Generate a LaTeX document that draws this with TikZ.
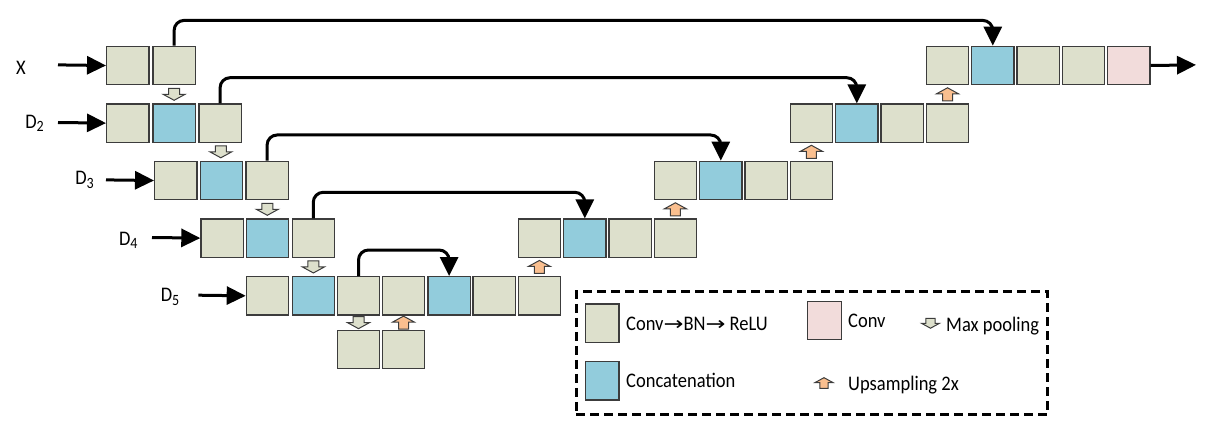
\documentclass[tikz,border=0pt]{standalone}
\usepackage{fontspec}
\setmainfont{Carlito}
\newfontfamily\arrowfont{DejaVu Sans}
\usetikzlibrary{arrows.meta,calc}
\definecolor{boxg}{RGB}{221,224,204}
\definecolor{boxb}{RGB}{146,204,220}
\definecolor{boxp}{RGB}{242,220,219}
\definecolor{upor}{RGB}{250,191,143}
\definecolor{edge}{RGB}{60,60,60}
\newcommand\sub[1]{\raisebox{-0.35ex}{\fontsize{14}{14}\selectfont #1}}
\newcommand\rarr{\scalebox{1.4}[1.0]{\arrowfont\fontsize{17}{17}\selectfont →}}
\begin{document}
\begin{tikzpicture}[x=1pt,y=-1pt,
  blk/.style={draw=edge,line width=1.3pt,minimum width=42.3pt,minimum height=38.3pt,inner sep=0pt,anchor=north west},
  gb/.style={blk,fill=boxg},
  bb/.style={blk,fill=boxb},
  pb/.style={blk,fill=boxp},
  lgb/.style={draw=edge,line width=1.3pt,minimum width=33.3pt,minimum height=38.3pt,inner sep=0pt,anchor=north west},
  txt/.style={font=\fontsize{18.5}{20}\selectfont,inner sep=0pt,text=black,yscale=1.12},
  skip/.style={line width=3pt,rounded corners=10pt,-{Triangle[length=19pt,width=18pt]}},
  inarr/.style={line width=3pt,-{Triangle[length=19pt,width=18pt]}},
  pics/pooldn/.style={code={\draw[draw=edge,line width=1pt,fill=boxg] (-5.5,-6) -- (5.5,-6) -- (5.5,0) -- (11,0) -- (0,6) -- (-11,0) -- (-5.5,0) -- cycle;}},
  pics/upsmp/.style={code={\draw[draw=edge,line width=1pt,fill=upor] (-5,6.5) -- (5,6.5) -- (5,-0.5) -- (11,-0.5) -- (0,-6.5) -- (-11,-0.5) -- (-5,-0.5) -- cycle;}}
]
\useasboundingbox (0,0) rectangle (1211,433);
% encoder rows
\node[gb] (e1a) at (106,45.7) {};
\node[gb] (e1b) at (152.3,45.7) {};
\node[gb] (e2a) at (106,103.3) {};
\node[bb] (e2b) at (152.3,103.3) {};
\node[gb] (e2c) at (198.3,103.3) {};
\node[gb] (e3a) at (154,160.7) {};
\node[bb] (e3b) at (199.7,160.7) {};
\node[gb] (e3c) at (245.3,160.7) {};
\node[gb] (e4a) at (200.3,218.3) {};
\node[bb] (e4b) at (245.7,218.3) {};
\node[gb] (e4c) at (291.5,218.3) {};
% bottom row D5
\node[gb] (f1) at (245.7,276) {};
\node[bb] (f2) at (291.7,276) {};
\node[gb] (f3) at (336.7,276) {};
\node[gb] (f4) at (381.7,276) {};
\node[bb] (f5) at (427.3,276) {};
\node[gb] (f6) at (472.3,276) {};
\node[gb] (f7) at (517.7,276) {};
\node[gb] (g1) at (336.7,329.7) {};
\node[gb] (g2) at (381.7,329.7) {};
% decoder rows
\node[gb] (d4a) at (517.5,218.3) {};
\node[bb] (d4b) at (563,218.3) {};
\node[gb] (d4c) at (608.3,218.3) {};
\node[gb] (d4d) at (653.7,218.3) {};
\node[gb] (d3a) at (653.5,160.7) {};
\node[bb] (d3b) at (699,160.7) {};
\node[gb] (d3c) at (744.3,160.7) {};
\node[gb] (d3d) at (789.7,160.7) {};
\node[gb] (d2a) at (789.5,103.3) {};
\node[bb] (d2b) at (835,103.3) {};
\node[gb] (d2c) at (880.3,103.3) {};
\node[gb] (d2d) at (925.7,103.3) {};
\node[gb] (d1a) at (925.7,45.7) {};
\node[bb] (d1b) at (971,45.7) {};
\node[gb] (d1c) at (1016.3,45.7) {};
\node[gb] (d1d) at (1061.7,45.7) {};
\node[pb] (d1e) at (1107,45.7) {};
% skip connections
\draw[skip] (e1b.north) -- ++(0,-25.3) -| (d1b.north);
\draw[skip] (e2c.north) -- ++(0,-25.6) -| (d2b.north);
\draw[skip] (e3c.north) -- ++(0,-25.7) -| (d3b.north);
\draw[skip] (e4c.north) -- ++(0,-26) -| (d4b.north);
\draw[skip] (f3.north) -- ++(0,-26) -| (f5.north);
% inputs
\node[txt,anchor=base] (lx) at (21,75) {X};
\node[txt,anchor=base] (l2) at (34.5,128.3) {D\sub{2}};
\node[txt,anchor=base] (l3) at (84.5,185) {D\sub{3}};
\node[txt,anchor=base] (l4) at (128.3,245) {D\sub{4}};
\node[txt,anchor=base] (l5) at (170,301.7) {D\sub{5}};
\coordinate (ix) at (58,64.9);
\coordinate (i2) at (58,122.5);
\coordinate (i3) at (106,179.9);
\coordinate (i4) at (152,237.5);
\coordinate (i5) at (198.3,295.2);
\draw[inarr] (ix) -- (e1a.west);
\draw[inarr] (i2) -- (e2a.west);
\draw[inarr] (i3) -- (e3a.west);
\draw[inarr] (i4) -- (e4a.west);
\draw[inarr] (i5) -- (f1.west);
\coordinate (out) at (1196,64.9);
\draw[inarr] (d1e.east) -- (out);
% pooling arrows
\pic at ($(e1b.south)!0.5!(e2b.north)$) {pooldn};
\pic at ($(e2c.south)!0.5!(e3b.north)$) {pooldn};
\pic at ($(e3c.south)!0.5!(e4b.north)$) {pooldn};
\pic at ($(e4c.south)!0.5!(f2.north)$) {pooldn};
\pic at ($(f3.south)!0.5!(g1.north)$) {pooldn};
% upsampling arrows
\pic at ($(g2.north)!0.5!(f4.south)$) {upsmp};
\pic at ($(f7.north)!0.5!(d4a.south)$) {upsmp};
\pic at ($(d4d.north)!0.5!(d3a.south)$) {upsmp};
\pic at ($(d3d.north)!0.5!(d2a.south)$) {upsmp};
\pic at ($(d2d.north)!0.5!(d1a.south)$) {upsmp};
% legend
\node[draw=black,line width=2.5pt,dash pattern=on 9pt off 5pt,minimum width=471pt,minimum height=123.3pt,inner sep=0pt,anchor=north west] (leg) at (575,290) {};
\node[lgb,fill=boxg] (lg1) at (585,303.3) {};
\node[lgb,fill=boxb] (lg2) at (585,361) {};
\node[lgb,fill=boxp,minimum width=34.3pt] (lg3) at (806.7,300.7) {};
\node[txt,anchor=base west] (t1) at (626,330) {Conv\rarr BN\rarr\ ReLU};
\node[txt,anchor=base west] (t2) at (626,387.7) {Concatenation};
\node[txt,anchor=base west] (t3) at (848,327.7) {Conv};
\node[txt,anchor=base west] (t4) at (946,331) {Max pooling};
\node[txt,anchor=base west] (t5) at (848,390.5) {Upsampling 2x};
\pic[scale=0.82] at (930.5,323.3) {pooldn};
\pic[scale=0.82] at (824,383) {upsmp};
\end{tikzpicture}
\end{document}
